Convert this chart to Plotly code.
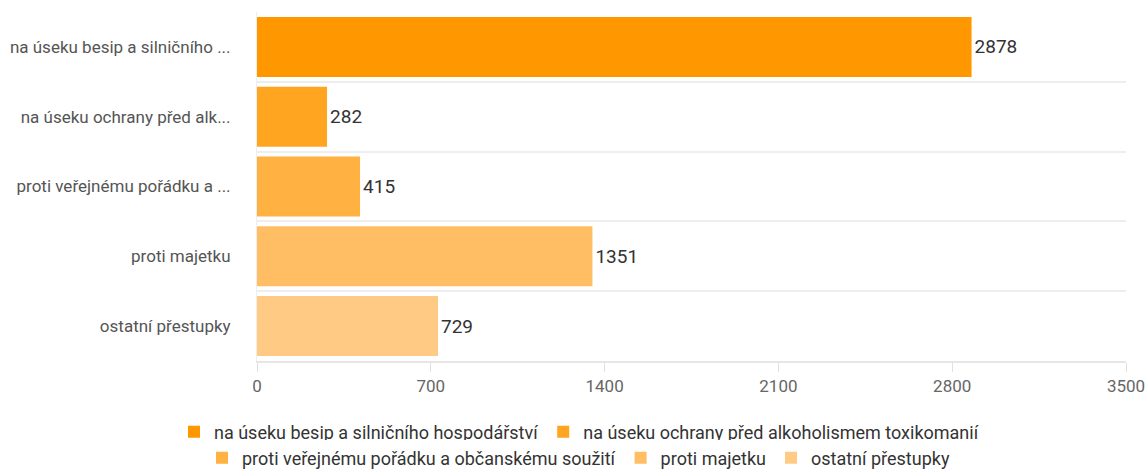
import plotly.graph_objects as go

categories = [
    "na úseku besip a silničního hospodářství",
    "na úseku ochrany před alkoholismem toxikomanií",
    "proti veřejnému pořádku a občanskému soužití",
    "proti majetku",
    "ostatní přestupky",
]
tick_labels = [
    "na úseku besip a silničního ...",
    "na úseku ochrany před alk...",
    "proti veřejnému pořádku a ...",
    "proti majetku",
    "ostatní přestupky",
]
values = [2878, 282, 415, 1351, 729]
colors = ["#ff9800", "#ffa520", "#ffb142", "#ffbe63", "#ffcb84"]
legend_rows = ["legend", "legend", "legend2", "legend2", "legend2"]
x_ticks = [0, 700, 1400, 2100, 2800, 3500]

fig = go.Figure()
for cat, val, col, lg in zip(categories, values, colors, legend_rows):
    fig.add_trace(go.Bar(
        y=[cat], x=[val], name=cat, orientation="h",
        marker=dict(color=col, line=dict(width=0)),
        text=[val], textposition="outside",
        textfont=dict(family="Roboto, sans-serif", size=19, color="#333333"),
        cliponaxis=False, legend=lg,
    ))

legend_font = dict(family="Roboto, sans-serif", size=18, color="#333333")
fig.update_layout(
    width=1148, height=469,
    margin=dict(l=257, r=22, t=12, b=108, autoexpand=False),
    paper_bgcolor="white", plot_bgcolor="white",
    barmode="overlay", bargap=0.14,
    font=dict(family="Roboto, sans-serif", color="#666666"),
    legend=dict(
        orientation="h", xref="container", x=(176 + 982) / 2 / 1148, xanchor="center",
        yref="container", y=1 - 432 / 469, yanchor="middle",
        font=legend_font, itemwidth=30, traceorder="normal",
    ),
    legend2=dict(
        orientation="h", xref="container", x=(212 + 945) / 2 / 1148, xanchor="center",
        yref="container", y=1 - 458 / 469, yanchor="middle",
        font=legend_font, itemwidth=30, traceorder="normal",
    ),
    showlegend=True,
)
fig.update_yaxes(
    type="category", categoryorder="array", categoryarray=categories,
    tickvals=categories, ticktext=tick_labels,
    autorange="reversed", tickson="boundaries",
    showgrid=True, gridcolor="#eeeeee", gridwidth=2,
    showline=True, linecolor="#eeeeee", linewidth=1,
    ticks="", ticklabelstandoff=22, automargin=False,
    tickfont=dict(family="Roboto, sans-serif", size=17, color="#555555"),
    zeroline=False,
)
fig.update_xaxes(
    range=[0, 3500], tickvals=x_ticks, ticktext=[str(t) for t in x_ticks],
    showgrid=False, zeroline=False, automargin=False,
    showline=True, linecolor="#e6e6e6", linewidth=2,
    ticks="outside", ticklen=9, tickcolor="#e0e0e0", tickwidth=1,
    tickfont=dict(family="Roboto, sans-serif", size=17, color="#666666"),
)

fig.write_html(
    "out.html",
    config={"displayModeBar": False},
    post_script="document.body.style.margin='0';document.body.style.overflow='hidden';",
)
